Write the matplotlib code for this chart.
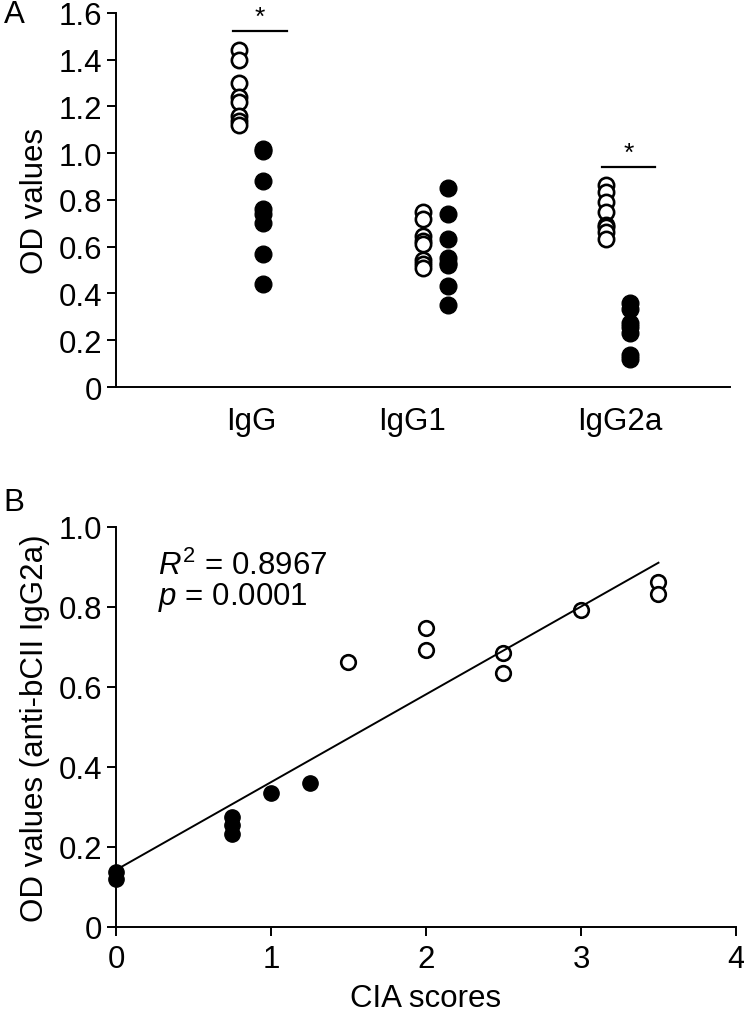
import matplotlib
matplotlib.use("Agg")
import matplotlib.pyplot as plt
import numpy as np

plt.rcParams['font.family'] = ['Liberation Sans', 'DejaVu Sans']
plt.rcParams['mathtext.fontset'] = 'custom'
plt.rcParams['mathtext.it'] = 'Liberation Sans:italic'
plt.rcParams['mathtext.rm'] = 'Liberation Sans'

# panel A: OD values per isotype (open = one group, filled = the other)
isotypes = ["IgG", "IgG1", "IgG2a"]
label_pos = [0.88, 1.93, 3.28]
open_pos = [0.80, 2.00, 3.19]
filled_shift = 0.16

open_vals = [
    [1.44, 1.40, 1.30, 1.24, 1.22, 1.16, 1.14, 1.12],
    [0.75, 0.72, 0.645, 0.625, 0.61, 0.545, 0.525, 0.51],
    [0.8625, 0.8325, 0.7925, 0.7475, 0.6925, 0.685, 0.6625, 0.635],
]
filled_vals = [
    [1.02, 1.01, 0.88, 0.76, 0.74, 0.70, 0.57, 0.44],
    [0.85, 0.74, 0.635, 0.55, 0.53, 0.52, 0.43, 0.35],
    [0.36, 0.335, 0.275, 0.255, 0.2325, 0.1375, 0.12],
]
# significance bars: (x start, x end, y)
sig_bars = [(0.762, 1.114, 1.523), (3.166, 3.511, 0.941)]

# panel B: CIA scores vs anti-bCII IgG2a
cia_filled = [0, 0, 0.75, 0.75, 0.75, 1, 1.25]
od_filled = [0.1375, 0.12, 0.275, 0.255, 0.2325, 0.335, 0.36]
cia_open = [1.5, 2, 2, 2.5, 2.5, 3, 3.5, 3.5]
od_open = [0.6625, 0.7475, 0.6925, 0.685, 0.635, 0.7925, 0.8625, 0.8325]

fs = 22.5
fig = plt.figure(figsize=(7.44, 10.2), dpi=100)

def style_axes(ax):
    for s in ['top', 'right']:
        ax.spines[s].set_visible(False)
    for s in ['left', 'bottom']:
        ax.spines[s].set_linewidth(1.4)
    ax.tick_params(width=1.4, length=6.5, labelsize=fs, direction='out')

def fmt(v):
    return "0" if v == 0 else "%.1f" % v

# ---- panel A
ax1 = fig.add_axes([0.1559, 0.6196, 0.8253, 0.3667])
style_axes(ax1)
for i in range(3):
    ax1.plot([open_pos[i]] * len(open_vals[i]), open_vals[i], 'o', ms=11,
             mfc='white', mec='black', mew=1.9, clip_on=False)
    ax1.plot([open_pos[i] + filled_shift] * len(filled_vals[i]), filled_vals[i], 'o',
             ms=12, mfc='black', mec='black', clip_on=False)
for x0, x1, y in sig_bars:
    ax1.plot([x0, x1], [y, y], color='black', lw=1.6, clip_on=False)
    ax1.text((x0 + x1) / 2, y + 0.008, "*", ha='center', va='bottom', fontsize=19)
ax1.set_xlim(0, 4)
ax1.set_ylim(0, 1.6)
yt = np.arange(0, 1.61, 0.2)
ax1.set_yticks(yt)
ax1.set_yticklabels([fmt(v) for v in yt])
ax1.set_xticks(label_pos)
ax1.set_xticklabels(isotypes)
ax1.tick_params(axis='x', length=0, pad=14)
ax1.set_ylabel("OD values", fontsize=fs, labelpad=6)
fig.text(0.005, 0.985, "A", fontsize=fs, va='center')

# ---- panel B
ax2 = fig.add_axes([0.1559, 0.0902, 0.8333, 0.3922])
style_axes(ax2)
ax2.plot(cia_filled, od_filled, 'o', ms=11, mfc='black', mec='black', clip_on=False)
ax2.plot(cia_open, od_open, 'o', ms=10.5, mfc='white', mec='black', mew=1.9, clip_on=False)
all_x = np.array(cia_filled + cia_open)
all_y = np.array(od_filled + od_open)
slope, icpt = np.polyfit(all_x, all_y, 1)
xs = np.array([all_x.min(), all_x.max()])
ax2.plot(xs, slope * xs + icpt, color='black', lw=1.4)
ax2.set_xlim(0, 4)
ax2.set_ylim(0, 1.0)
yt2 = np.arange(0, 1.01, 0.2)
ax2.set_yticks(yt2)
ax2.set_yticklabels([fmt(v) for v in yt2])
ax2.set_xticks([0, 1, 2, 3, 4])
ax2.tick_params(axis='x', pad=6)
ax2.set_xlabel("CIA scores", fontsize=fs, labelpad=6)
ax2.set_ylabel("OD values (anti-bCII IgG2a)", fontsize=fs, labelpad=6)
ax2.text(0.27, 0.905, "$\\mathit{R}^2$ = 0.8967", fontsize=fs, va='center')
ax2.text(0.27, 0.825, "$\\mathit{p}$ = 0.0001", fontsize=fs, va='center')
fig.text(0.005, 0.507, "B", fontsize=fs, va='center')

fig.savefig("out.png", dpi=100)
